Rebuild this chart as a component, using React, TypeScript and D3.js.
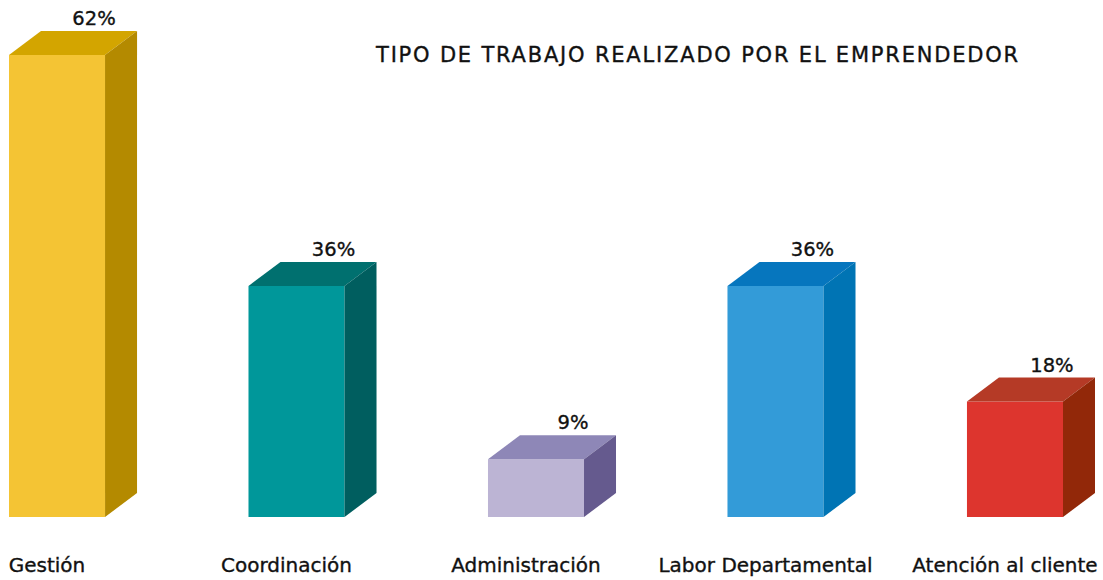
import React from "react";
import * as d3 from "d3";

const categories = ["Gestión", "Coordinación", "Administración", "Labor Departamental", "Atención al cliente"];
const barValues = [72, 36, 9, 36, 18];
const valueLabels = ["62%", "36%", "9%", "36%", "18%"];
const frontColors = ["#F4C434", "#00979A", "#BCB4D4", "#339BD8", "#DD352E"];
const topColors = ["#D3A500", "#00706F", "#8E87B7", "#0676BE", "#B53A26"];
const sideColors = ["#B48A00", "#005E5F", "#655A8E", "#0074B4", "#922809"];
const title = "TIPO DE TRABAJO REALIZADO POR EL EMPRENDEDOR";

const W = 1103;
const H = 580;
const DX = 32;
const DY = 24;

export default function App() {
  const x = d3.scaleBand<string>().domain(categories).range([9, 1063]).paddingInner(0.599).paddingOuter(0);
  const y = d3.scaleLinear().domain([0, 72]).range([517, 55]);
  const bw = x.bandwidth();
  const font = "'DejaVu Sans', Verdana, sans-serif";
  const txt = { fontFamily: font, fill: "#111", stroke: "#111", strokeWidth: 0.35 };
  return (
    <svg width={W} height={H} style={{ position: "absolute", left: 0, top: 0, background: "#fff" }}>
      <text x={376} y={62} fontSize={21} letterSpacing={1.8} {...txt}>
        {title}
      </text>
      {categories.map((c, i) => {
        const x0 = x(c) as number;
        const x1 = x0 + bw;
        const yt = y(barValues[i]);
        const yb = y(0);
        const topPath = d3.path();
        topPath.moveTo(x0, yt);
        topPath.lineTo(x0 + DX, yt - DY);
        topPath.lineTo(x1 + DX, yt - DY);
        topPath.lineTo(x1, yt);
        topPath.closePath();
        const sidePath = d3.path();
        sidePath.moveTo(x1, yt);
        sidePath.lineTo(x1 + DX, yt - DY);
        sidePath.lineTo(x1 + DX, yb - DY);
        sidePath.lineTo(x1, yb);
        sidePath.closePath();
        return (
          <g key={c}>
            <rect x={x0} y={yt} width={bw} height={yb - yt} fill={frontColors[i]} />
            <path d={topPath.toString()} fill={topColors[i]} />
            <path d={sidePath.toString()} fill={sideColors[i]} />
            <text x={x0 + 85} y={yt - DY - 6} textAnchor="middle" fontSize={19.5} {...txt}>
              {valueLabels[i]}
            </text>
            <text x={x0 + bw / 2 - 10} y={572} textAnchor="middle" fontSize={20} {...txt}>
              {c}
            </text>
          </g>
        );
      })}
    </svg>
  );
}
